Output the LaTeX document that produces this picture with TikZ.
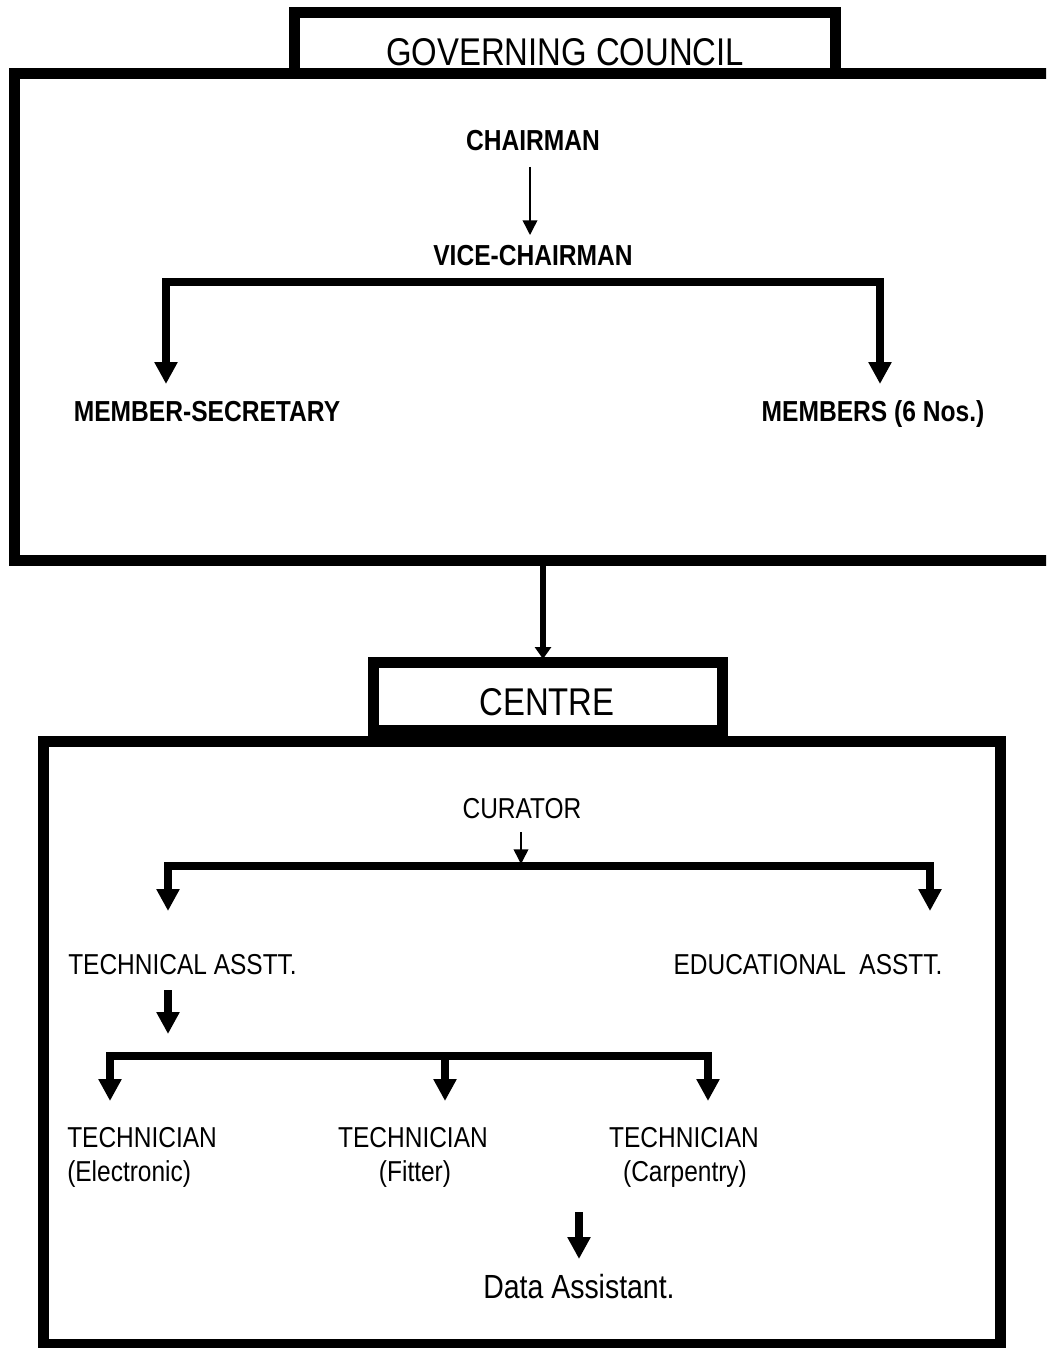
\documentclass[tikz,border=0pt]{standalone}
\usepackage{fontspec}
\setmainfont{Liberation Sans}[FakeStretch=0.85]
\usetikzlibrary{arrows.meta}
\begin{document}
\begin{tikzpicture}[x=0.75pt,y=-0.75pt,
  frame/.style={line width=8.25pt, line join=miter},
  titletxt/.style={font=\fontsize{29}{33}\selectfont, inner sep=0pt, anchor=base},
  lbl/.style={font=\fontsize{21.6}{25}\selectfont, inner sep=0pt, anchor=base},
  blbl/.style={font=\bfseries\fontsize{21.7}{25}\selectfont, inner sep=0pt, anchor=base},
  datatxt/.style={font=\fontsize{25.1}{29}\selectfont, inner sep=0pt, anchor=base},
  thinarr/.style={line width=1.1pt, -{Triangle[width=11pt,length=11pt]}},
  medarr/.style={line width=4.5pt, -{Triangle[width=12pt,length=9pt]}},
  heavy/.style={line width=5.5pt, line join=miter},
  >={Triangle[width=16.5pt,length=16.5pt]}
]
\useasboundingbox (0,0) rectangle (1046,1348);
\clip (0,0) rectangle (1046,1348);

% governing council frames
\draw[frame] (14.5,73.5) rectangle (1100,560.5);
\draw[frame] (294,70) -- (294,13) -- (835.5,13) -- (835.5,70);
\node[titletxt] (gc) at (565,66) {GOVERNING COUNCIL};

\node[blbl] (chair) at (533,151) {CHAIRMAN};
\node[blbl] (vice) at (533,266) {VICE-CHAIRMAN};
\node[blbl] (msec) at (207,421) {MEMBER-SECRETARY};
\node[blbl] (mem) at (873,421) {MEMBERS (6 Nos.)};

\coordinate (c1) at (530,167);
\coordinate (c2) at (530,235);
\draw[thinarr] (c1) -- (c2);

\coordinate (v1) at (166,384);
\coordinate (v2) at (880,282);
\coordinate (v3) at (880,384);
\draw[heavy,<->] (v1) |- (v2) -- (v3);

% centre
\draw[frame] (43.5,741.5) rectangle (1000.5,1344.5);
\draw[frame, fill=white] (373.5,662.5) rectangle (722.5,730.5);
\node[titletxt] (centre) at (547,715) {CENTRE};

\coordinate (g1) at (543,560);
\coordinate (g2) at (543,659);
\draw[medarr] (g1) -- (g2);

\node[lbl] (cur) at (522,818) {CURATOR};
\node[lbl, anchor=base west] (ta) at (68,974) {TECHNICAL ASSTT.};
\node[lbl] (ea) at (808,974) {EDUCATIONAL\ \ ASSTT.};

\coordinate (k1) at (521,832);
\coordinate (k2) at (521,864);
\draw[thinarr] (k1) -- (k2);

\coordinate (h1) at (168,911);
\coordinate (h2) at (930,866);
\coordinate (h3) at (930,911);
\draw[heavy,<->] (h1) |- (h2) -- (h3);

\coordinate (t1) at (168,990);
\coordinate (t2) at (168,1034);
\draw[heavy,->] (t1) -- (t2);

\coordinate (e1) at (110,1101);
\coordinate (e2) at (708,1056);
\coordinate (e3) at (708,1101);
\coordinate (f1) at (445,1056);
\coordinate (f2) at (445,1101);
\draw[heavy,<->] (e1) |- (e2) -- (e3);
\draw[heavy,->] ([yshift=-1]f1) -- (f2);

\node[lbl, anchor=base west] (te1) at (67,1147) {TECHNICIAN};
\node[lbl, anchor=base west] (te2) at (67,1181) {(Electronic)};
\node[lbl] (tf1) at (413,1147) {TECHNICIAN};
\node[lbl] (tf2) at (415,1181) {(Fitter)};
\node[lbl] (tc1) at (684,1147) {TECHNICIAN};
\node[lbl] (tc2) at (685,1181) {(Carpentry)};

\coordinate (d1) at (579,1212);
\coordinate (d2) at (579,1259);
\draw[heavy,->] (d1) -- (d2);
\node[datatxt] (data) at (579,1298) {Data Assistant.};
\end{tikzpicture}
\end{document}
